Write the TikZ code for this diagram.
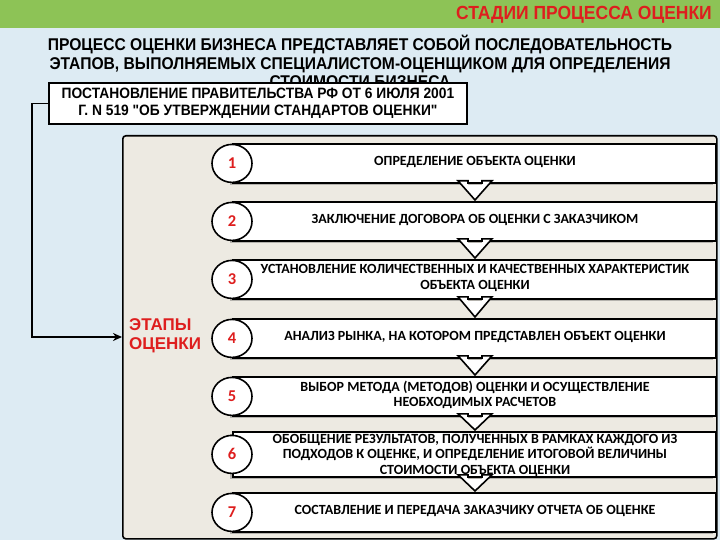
\documentclass[tikz,border=0pt]{standalone}
\usepackage{fontspec}
\setmainfont{Liberation Sans}
\newfontfamily\narrowf{Liberation Sans}[FakeStretch=0.92]
\newfontfamily\calf{Carlito}
\usetikzlibrary{shadows,arrows.meta,shapes.geometric}
\definecolor{bgblue}{RGB}{221,235,243}
\definecolor{hdrgreen}{RGB}{141,195,86}
\definecolor{panelc}{RGB}{237,234,226}
\definecolor{redt}{RGB}{222,30,30}
\tikzset{
  stepbox/.style={draw=black, line width=1.8pt, fill=white, minimum width=483pt, minimum height=39pt, anchor=north west, inner sep=0pt,
     drop shadow={shadow xshift=-2.5pt, shadow yshift=-2.5pt, opacity=0.35, fill=black!70}},
  steptext/.style={font=\calf\bfseries\fontsize{14}{15.5}\selectfont, align=center, inner sep=0pt},
  numcirc/.style={draw=black, line width=1.6pt, fill=white, shape=ellipse, minimum width=40pt, minimum height=38pt, inner sep=0pt, text=redt,
     font=\calf\bfseries\fontsize{16.5}{16.5}\selectfont},
}
\begin{document}
\begin{tikzpicture}[x=1pt,y=-1pt]
\useasboundingbox (0,0) rectangle (720,540);
\fill[bgblue] (0,0) rectangle (720,540);
\fill[hdrgreen] (0,0) rectangle (720,28);
\node[anchor=east, inner sep=0pt, text=redt, font=\narrowf\bfseries\fontsize{19}{19}\selectfont] (title) at (712,14.5) {СТАДИИ ПРОЦЕССА ОЦЕНКИ};
\node[align=center, inner sep=0pt, font=\narrowf\bfseries\fontsize{17}{18.5}\selectfont, anchor=north] (sub) at (360,35)
 {ПРОЦЕСС ОЦЕНКИ БИЗНЕСА ПРЕДСТАВЛЯЕТ СОБОЙ ПОСЛЕДОВАТЕЛЬНОСТЬ\\ЭТАПОВ, ВЫПОЛНЯЕМЫХ СПЕЦИАЛИСТОМ-ОЦЕНЩИКОМ ДЛЯ ОПРЕДЕЛЕНИЯ\\СТОИМОСТИ БИЗНЕСА};
% decree box
\node[draw=black, line width=1.8pt, fill=white, minimum width=418pt, minimum height=41pt, anchor=north west, inner sep=0pt,
   align=center, font=\narrowf\bfseries\fontsize{15}{16.5}\selectfont] (decree) at (48,82)
 {ПОСТАНОВЛЕНИЕ ПРАВИТЕЛЬСТВА РФ ОТ 6 ИЮЛЯ 2001\\Г. N 519 "ОБ УТВЕРЖДЕНИИ СТАНДАРТОВ ОЦЕНКИ"};
% panel
\node[draw=black, line width=1.6pt, fill=panelc, rounded corners=3pt, minimum width=594pt, minimum height=403pt, anchor=north west, inner sep=0pt] (panel) at (122,135) {};
\coordinate (bend) at (32,337);
\draw[line width=1.6pt, -{Stealth[length=9pt,width=8pt]}] (decree.west) -| (bend) -- (bend -| panel.west);
\node[anchor=north west, align=left, inner sep=0pt, text=redt, font=\bfseries\fontsize{17}{19.5}\selectfont] (etapy) at (129,318) {ЭТАПЫ\\ОЦЕНКИ};
% steps
\node[stepbox] (s1) at (232,143) {};
\node[stepbox] (s2) at (232,201) {};
\node[stepbox] (s3) at (232,259) {};
\node[stepbox] (s4) at (232,318) {};
\node[stepbox] (s5) at (232,376) {};
\node[stepbox, minimum height=45pt] (s6) at (232,431) {};
\node[stepbox] (s7) at (232,492) {};
\foreach \a/\b in {s1/s2,s2/s3,s3/s4,s4/s5,s5/s6,s6/s7}{
  \path (\a.south -| 475,0) coordinate (t1) (\b.north -| 475,0) coordinate (t2);
  \fill[white] ([xshift=-7pt,yshift=-1.2pt]t1) -- ([xshift=-7pt,yshift=3pt]t1) -- ([xshift=-17pt,yshift=3pt]t1) -- ([yshift=1pt]t2) -- ([xshift=17pt,yshift=3pt]t1) -- ([xshift=7pt,yshift=3pt]t1) -- ([xshift=7pt,yshift=-1.2pt]t1) -- cycle;
  \draw[line width=1.6pt, line join=miter] ([xshift=-7pt]t1) -- ([xshift=-7pt,yshift=3pt]t1) -- ([xshift=-17pt,yshift=3pt]t1) -- ([yshift=1pt]t2) -- ([xshift=17pt,yshift=3pt]t1) -- ([xshift=7pt,yshift=3pt]t1) -- ([xshift=7pt]t1);
}
\foreach \s/\n in {s1/1,s2/2,s3/3,s4/4,s5/5,s6/6,s7/7}{
  \node[numcirc] (c\n) at (\s.west) {\n};
}
\node[steptext] (t1) at (475,162) {ОПРЕДЕЛЕНИЕ ОБЪЕКТА ОЦЕНКИ};
\node[steptext] (t2) at (475,220) {ЗАКЛЮЧЕНИЕ ДОГОВОРА ОБ ОЦЕНКИ С ЗАКАЗЧИКОМ};
\node[steptext] (t3) at (475,278) {УСТАНОВЛЕНИЕ КОЛИЧЕСТВЕННЫХ И КАЧЕСТВЕННЫХ ХАРАКТЕРИСТИК\\ОБЪЕКТА ОЦЕНКИ};
\node[steptext] (t4) at (475,337) {АНАЛИЗ РЫНКА, НА КОТОРОМ ПРЕДСТАВЛЕН ОБЪЕКТ ОЦЕНКИ};
\node[steptext] (t5) at (475,395) {ВЫБОР МЕТОДА (МЕТОДОВ) ОЦЕНКИ И ОСУЩЕСТВЛЕНИЕ\\НЕОБХОДИМЫХ РАСЧЕТОВ};
\node[steptext] (t6) at (475,455) {ОБОБЩЕНИЕ РЕЗУЛЬТАТОВ, ПОЛУЧЕННЫХ В РАМКАХ КАЖДОГО ИЗ\\ПОДХОДОВ К ОЦЕНКЕ, И ОПРЕДЕЛЕНИЕ ИТОГОВОЙ ВЕЛИЧИНЫ\\СТОИМОСТИ ОБЪЕКТА ОЦЕНКИ};
\node[steptext] (t7) at (475,511) {СОСТАВЛЕНИЕ И ПЕРЕДАЧА ЗАКАЗЧИКУ ОТЧЕТА ОБ ОЦЕНКЕ};
\end{tikzpicture}
\end{document}
